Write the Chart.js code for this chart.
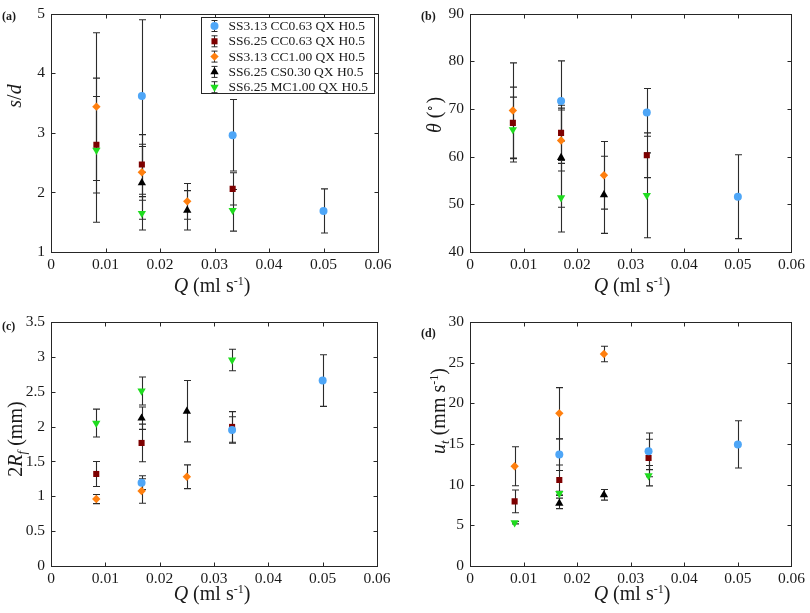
<!DOCTYPE html>
<html>
<head>
<meta charset="utf-8">
<title>Spacing, angle, diameter and velocity against flow rate</title>
<script src="https://cdn.jsdelivr.net/npm/chart.js@4.4.1/dist/chart.umd.min.js"></script>
<style>
  body { margin: 0; background: #fff; }
  #figure { position: relative; width: 810px; height: 613px; font-family: "Liberation Serif", serif; color: #1a1a1a; }
  #figure canvas { position: absolute; }
  .lbl { position: absolute; white-space: nowrap; font-size: 20px; line-height: 1; transform: translate(-50%, -50%); }
  .rot { transform: translate(-50%, -50%) rotate(-90deg); }
  .tag { position: absolute; font-size: 12px; font-weight: bold; line-height: 1; }
  sup { font-size: 0.6em; vertical-align: 0.6em; line-height: 0; }
  sub { font-size: 0.65em; vertical-align: -0.3em; line-height: 0; }
</style>
</head>
<body>
<div id="figure">
  <canvas id="chartA" width="405" height="306" style="left:0;top:0"></canvas>
  <canvas id="chartB" width="405" height="306" style="left:405px;top:0"></canvas>
  <canvas id="chartC" width="405" height="307" style="left:0;top:306px"></canvas>
  <canvas id="chartD" width="405" height="307" style="left:405px;top:306px"></canvas>

  <div class="tag" style="left:2px;top:10px">(a)</div>
  <div class="tag" style="left:421px;top:10px">(b)</div>
  <div class="tag" style="left:2px;top:320px">(c)</div>
  <div class="tag" style="left:421px;top:327px">(d)</div>

  <div class="lbl" style="left:212px;top:285px"><i>Q</i> (ml s<sup>-1</sup>)</div>
  <div class="lbl" style="left:632px;top:285px"><i>Q</i> (ml s<sup>-1</sup>)</div>
  <div class="lbl" style="left:212px;top:593px"><i>Q</i> (ml s<sup>-1</sup>)</div>
  <div class="lbl" style="left:632px;top:593px"><i>Q</i> (ml s<sup>-1</sup>)</div>

  <div class="lbl rot" style="left:14px;top:96px"><i>s</i>/<i>d</i></div>
  <div class="lbl rot" style="left:434px;top:115px"><i>θ</i> (<sup>∘</sup>)</div>
  <div class="lbl rot" style="left:15px;top:439px">2<i>R<sub>f</sub></i> (mm)</div>
  <div class="lbl rot" style="left:438px;top:411px"><i>u<sub>t</sub></i> (mm s<sup>-1</sup>)</div>
</div>

<script>
// SERIES
const seriesLabels = [
  "SS3.13 CC0.63 QX H0.5",
  "SS6.25 CC0.63 QX H0.5",
  "SS3.13 CC1.00 QX H0.5",
  "SS6.25 CS0.30 QX H0.5",
  "SS6.25 MC1.00 QX H0.5"
];
const seriesColors = ["#4ea6f7", "#7d0000", "#ff7f0e", "#000000", "#1fdc1f"];
const seriesShapes = ["circle", "rect", "rectRot", "triangle", "triangle"];
const shapeTurn = [0, 0, 0, 0, 180];
const shapeSize = [4, 4.3, 4.2, 4.8, 4.8];

// flow rates (ml/s) per series; panel (b) uses rounded values
const flowRates = [
  [0.01667, 0.03333, 0.05],
  [0.00833, 0.01667, 0.03333],
  [0.00833, 0.01667, 0.025],
  [0.01667, 0.025],
  [0.00833, 0.01667, 0.03333]
];
const flowRatesTheta = [
  [0.017, 0.033, 0.05],
  [0.008, 0.017, 0.033],
  [0.008, 0.017, 0.025],
  [0.017, 0.025],
  [0.008, 0.017, 0.033]
];

// (a) s/d
const spacing = [[3.62, 2.96, 1.69], [2.80, 2.47, 2.06], [3.44, 2.34, 1.85], [2.16, 1.70], [2.71, 1.65, 1.70]];
const spacingErr = [[1.28, 0.60, 0.37], [0.81, 0.50, 0.27], [1.24, 0.47, 0.30], [0.61, 0.33], [1.21, 0.28, 0.35]];
// (b) theta
const angle = [[71.7, 69.3, 51.6], [67.1, 65.0, 60.3], [69.7, 63.4, 56.1], [59.8, 52.0], [65.7, 51.4, 51.9]];
const angleErr = [[8.4, 5.0, 8.8], [7.5, 5.8, 4.7], [10.0, 6.4, 7.1], [10.4, 8.1], [6.8, 7.2, 8.9]];
// (c) 2Rf
const diameter = [[1.195, 1.95, 2.66], [1.32, 1.765, 1.995], [0.96, 1.076, 1.28], [2.12, 2.22], [2.05, 2.51, 2.955]];
const diameterErr = [[0.10, 0.19, 0.37], [0.18, 0.27, 0.22], [0.065, 0.175, 0.17], [0.16, 0.44], [0.20, 0.20, 0.155]];
// (d) u_t
const velocity = [[13.7, 14.1, 14.95], [7.95, 10.57, 13.28], [12.26, 18.77, 26.07], [7.7, 8.75], [5.33, 8.93, 11.1]];
const velocityErr = [[1.95, 2.25, 2.9], [1.4, 1.85, 2.3], [2.4, 3.16, 0.95], [0.65, 0.65], [0.15, 0.25, 1.25]];

// TICKS
const xTicks = [0, 0.01, 0.02, 0.03, 0.04, 0.05, 0.06];
const spacingTicks = [1, 2, 3, 4, 5];
const angleTicks = [40, 50, 60, 70, 80, 90];
const diameterTicks = [0, 0.5, 1, 1.5, 2, 2.5, 3, 3.5];
const velocityTicks = [0, 5, 10, 15, 20, 25, 30];

Chart.defaults.font.family = "'Liberation Serif', serif";
Chart.defaults.color = "#1a1a1a";

// box round the plot with ticks pointing in (matlab style)
const framePlugin = {
  id: "frame",
  beforeDatasetsDraw(chart) {
    const { ctx, chartArea: a, scales } = chart;
    ctx.save();
    ctx.strokeStyle = "#262626";
    ctx.lineWidth = 1;
    const L = Math.round(a.left) + 0.5, R = Math.round(a.right) + 0.5;
    const T = Math.round(a.top) + 0.5, B = Math.round(a.bottom) + 0.5;
    ctx.beginPath();
    scales.x.ticks.forEach((t) => {
      const px = Math.round(scales.x.getPixelForValue(t.value)) + 0.5;
      ctx.moveTo(px, B); ctx.lineTo(px, B - 4);
      ctx.moveTo(px, T); ctx.lineTo(px, T + 4);
    });
    scales.y.ticks.forEach((t) => {
      const py = Math.round(scales.y.getPixelForValue(t.value)) + 0.5;
      ctx.moveTo(L, py); ctx.lineTo(L + 4, py);
      ctx.moveTo(R, py); ctx.lineTo(R - 4, py);
    });
    ctx.stroke();
    ctx.strokeRect(L, T, R - L, B - T);
    ctx.restore();
  }
};

// vertical error bars from dataset.errors
const errorBarPlugin = {
  id: "errorBars",
  beforeDatasetsDraw(chart) {
    const { ctx, scales } = chart;
    ctx.save();
    ctx.strokeStyle = "#2b2b2b";
    ctx.lineWidth = 1.1;
    chart.data.datasets.forEach((ds) => {
      ds.data.forEach((p, i) => {
        const e = ds.errors[i];
        const x = Math.round(scales.x.getPixelForValue(p.x)) + 0.5;
        const y1 = scales.y.getPixelForValue(p.y + e);
        const y2 = scales.y.getPixelForValue(p.y - e);
        ctx.beginPath();
        ctx.moveTo(x, y1); ctx.lineTo(x, y2);
        ctx.moveTo(x - 3.5, y1); ctx.lineTo(x + 3.5, y1);
        ctx.moveTo(x - 3.5, y2); ctx.lineTo(x + 3.5, y2);
        ctx.stroke();
      });
    });
    ctx.restore();
  }
};

// legend inside the top right of panel (a)
const insetLegend = {
  id: "insetLegend",
  afterDraw(chart, args, opts) {
    if (!opts.show) return;
    const { ctx, chartArea: a } = chart;
    const w = 173, h = 76;
    const left = Math.round(a.right - 4 - w) + 0.5, top = Math.round(a.top + 3) + 0.5;
    ctx.save();
    ctx.fillStyle = "#fff";
    ctx.fillRect(left, top, w, h);
    ctx.strokeStyle = "#262626";
    ctx.lineWidth = 1;
    ctx.strokeRect(left, top, w, h);
    ctx.font = "13.5px 'Liberation Serif', serif";
    ctx.textBaseline = "middle";
    chart.data.datasets.forEach((ds, i) => {
      const cy = top + 8.5 + i * 15.3;
      const cx = left + 13;
      ctx.strokeStyle = "#2b2b2b";
      ctx.beginPath();
      ctx.moveTo(cx, cy - 5.5); ctx.lineTo(cx, cy + 5.5);
      ctx.moveTo(cx - 3, cy - 5.5); ctx.lineTo(cx + 3, cy - 5.5);
      ctx.moveTo(cx - 3, cy + 5.5); ctx.lineTo(cx + 3, cy + 5.5);
      ctx.stroke();
      ctx.fillStyle = ds.backgroundColor;
      Chart.helpers.drawPoint(ctx, {
        pointStyle: ds.pointStyle, rotation: ds.rotation,
        radius: ds.pointRadius, borderWidth: 0
      }, cx, cy);
      ctx.fillStyle = "#1a1a1a";
      ctx.fillText(ds.label, left + 27, cy + 0.5);
    });
    ctx.restore();
  }
};

function makePanel(id, xs, means, errs, yTicks, area, legend) {
  const canvas = document.getElementById(id);
  const W = canvas.width, H = canvas.height;
  const datasets = seriesLabels.map((label, s) => ({
    label: label,
    data: xs[s].map((q, i) => ({ x: q, y: means[s][i] })),
    errors: errs[s],
    backgroundColor: seriesColors[s],
    borderColor: seriesColors[s],
    borderWidth: 0,
    pointStyle: seriesShapes[s],
    rotation: shapeTurn[s],
    pointRadius: shapeSize[s],
    pointHoverRadius: shapeSize[s],
    showLine: false
  }));
  const tickFont = { size: 15.5, lineHeight: 1 };
  return new Chart(canvas, {
    type: "scatter",
    data: { datasets: datasets },
    options: {
      responsive: false,
      animation: false,
      layout: { padding: { left: 0, top: area.top, right: W - area.right, bottom: 0 } },
      plugins: {
        legend: { display: false },
        tooltip: { enabled: false },
        insetLegend: { show: legend }
      },
      scales: {
        x: {
          type: "linear", min: 0, max: 0.06,
          grid: { display: false, drawTicks: false },
          border: { display: false },
          afterBuildTicks: (sc) => { sc.ticks = xTicks.map((v) => ({ value: v })); },
          afterFit: (sc) => { sc.height = H - area.bottom; },
          ticks: { font: tickFont, padding: 5, maxRotation: 0, callback: (v) => String(v) }
        },
        y: {
          type: "linear", min: yTicks[0], max: yTicks[yTicks.length - 1],
          grid: { display: false, drawTicks: false },
          border: { display: false },
          afterBuildTicks: (sc) => { sc.ticks = yTicks.map((v) => ({ value: v })); },
          afterFit: (sc) => { sc.width = area.left; },
          ticks: { font: tickFont, padding: 6, callback: (v) => String(v) }
        }
      }
    },
    plugins: [framePlugin, errorBarPlugin, insetLegend]
  });
}

makePanel("chartA", flowRates, spacing, spacingErr, spacingTicks, { left: 51, right: 378, top: 8, bottom: 252 }, true);
makePanel("chartB", flowRatesTheta, angle, angleErr, angleTicks, { left: 65, right: 391, top: 8, bottom: 252 }, false);
makePanel("chartC", flowRates, diameter, diameterErr, diameterTicks, { left: 51, right: 377, top: 16, bottom: 260 }, false);
makePanel("chartD", flowRates, velocity, velocityErr, velocityTicks, { left: 65, right: 390, top: 16, bottom: 260 }, false);
</script>
</body>
</html>
